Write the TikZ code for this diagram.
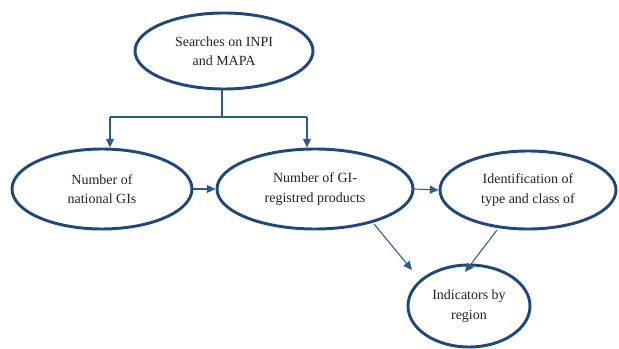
\documentclass[tikz,border=0pt]{standalone}
\usepackage{fontspec}
\setmainfont{Liberation Serif}
\usetikzlibrary{shapes.geometric,arrows.meta,calc}
\definecolor{ellblue}{HTML}{1F497D}
\definecolor{arrblue}{HTML}{2E5C8A}
\definecolor{txt}{HTML}{222222}
\tikzset{
  oval/.style={ellipse, draw=ellblue, line width=2.2pt, inner sep=0pt, text=txt,
    align=center, font=\fontsize{10.5}{14.5}\selectfont},
  arr/.style={draw=arrblue, line width=0.8pt, -{Triangle[length=6.5pt,width=6pt]}},
  ln/.style={draw=arrblue, line width=0.8pt}
}
\begin{document}
\begin{tikzpicture}[x=0.75pt,y=-0.75pt]
\useasboundingbox (0,0) rectangle (619,349);
\node[oval, minimum width=178*0.75pt, minimum height=76*0.75pt] (top) at (224,51) {Searches on INPI\\and MAPA};
\node[oval, minimum width=180*0.75pt, minimum height=80*0.75pt] (left) at (102,189) {Number of\\national GIs};
\node[oval, minimum width=196*0.75pt, minimum height=80*0.75pt] (mid) at (315,189) {Number of GI-\\registred products};
\node[oval, minimum width=176*0.75pt, minimum height=78*0.75pt] (right) at (528,190) {Identification of\\type and class of};
\node[oval, minimum width=122*0.75pt, minimum height=82*0.75pt] (bot) at (469,306) {Indicators by\\region};
\coordinate (j) at (222,117);
\coordinate (jl) at (110,117);
\coordinate (jr) at (307,117);
\draw[ln] (top.south -| j) -- (j);
\draw[ln] (jl) -- (jr);
\draw[arr] (jl) -- (jl |- left.north);
\draw[arr] (jr) -- (jr |- mid.north);
\draw[arr] (left.east) -- (mid.west);
\draw[arr] (mid.east) -- (right.west);
\draw[arr] ($(mid.center)+(59,35)$) -- ($(bot.center)+(-57,-36)$);
\draw[arr] ($(right.center)+(-31,40)$) -- ($(bot.center)+(-4,-34)$);
\end{tikzpicture}
\end{document}
